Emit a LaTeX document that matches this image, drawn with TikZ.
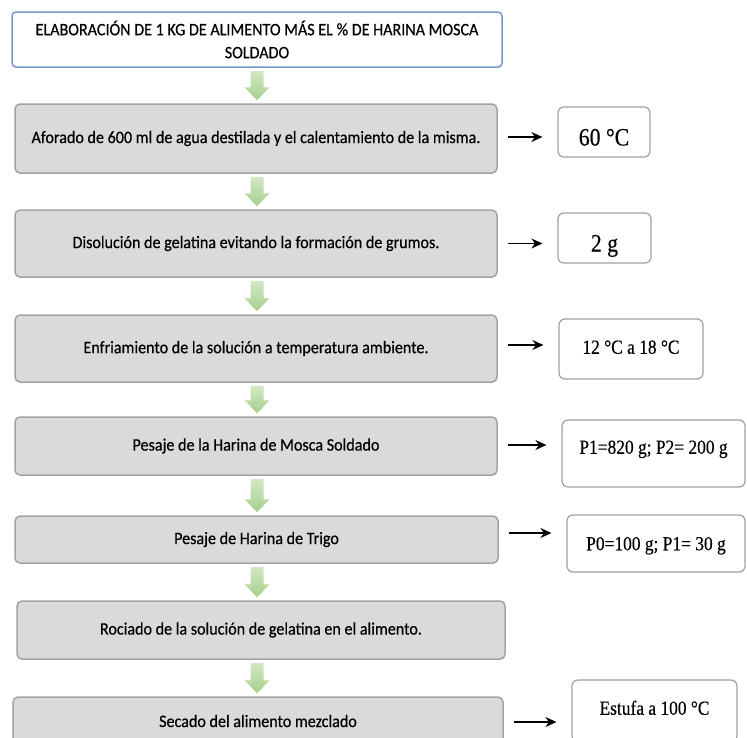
\documentclass[tikz,border=0pt]{standalone}
\usepackage{fontspec}
\setmainfont{Liberation Serif}
\newfontfamily\boxfont[FakeStretch=0.92,FakeBold=0.5]{Carlito}
\newfontfamily\valfont[FakeStretch=0.87,FakeBold=0.3]{Liberation Serif}
\usetikzlibrary{arrows.meta,calc,shadows}

\definecolor{grayfill}{HTML}{DADADA}
\definecolor{grayline}{HTML}{A3A3A3}
\definecolor{blueline}{HTML}{7A98C6}
\definecolor{greentop}{HTML}{D3E9C5}
\definecolor{greenbot}{HTML}{A6CF8A}
\definecolor{valline}{HTML}{A0A0A0}

\newcommand\flowarrow[2]{%
  \shade[top color=greentop, bottom color=greenbot]
    let \p1=(#1.south), \p2=(#2.north), \p3=(t.south),
        \n1={\y1-3pt}, \n2={\y2+3pt}, \n3={\y2+16pt} in
    ({\x3-6.5pt},\n1) -- ({\x3+6.5pt},\n1) -- ({\x3+6.5pt},\n3) --
    ({\x3+12.5pt},\n3) -- (\x3,\n2) -- ({\x3-12.5pt},\n3) --
    ({\x3-6.5pt},\n3) -- cycle;}

\begin{document}
\begin{tikzpicture}[x=1pt,y=-1pt,
  titlebox/.style={draw=blueline, line width=1.5pt, fill=white,
    rounded corners=4pt, inner sep=0pt, align=center,
    font=\boxfont\fontsize{17.5}{23}\selectfont,
    drop shadow={shadow xshift=1pt, shadow yshift=-1.2pt, opacity=0.2}},
  stepbox/.style={draw=grayline, line width=1.5pt, fill=grayfill,
    rounded corners=5pt, inner sep=0pt,
    font=\boxfont\fontsize{17.5}{21}\selectfont,
    drop shadow={shadow xshift=0.8pt, shadow yshift=-1pt, opacity=0.15}},
  valbox/.style={draw=valline, line width=1.2pt, fill=white,
    rounded corners=6pt, inner sep=0pt,
    font=\valfont\fontsize{20}{24}\selectfont},
  bigval/.style={font=\valfont\fontsize{25}{28}\selectfont},
  side/.style={line width=1.4pt, -{Stealth[length=11pt,width=10pt]},
    shorten <=10pt, shorten >=15pt},
]
\clip (0,0) rectangle (747,737);

% main column
\node[titlebox, minimum width=490pt, minimum height=55pt] (t) at (257,39.5)
  {ELABORACIÓN DE 1 KG DE ALIMENTO MÁS EL \% DE HARINA MOSCA\\SOLDADO};
\node[stepbox, minimum width=482pt, minimum height=69pt] (b1) at (256,138.5)
  {Aforado de 600 ml de agua destilada y el calentamiento de la misma.};
\node[stepbox, minimum width=482pt, minimum height=67pt] (b2) at (256,243.5)
  {Disolución de gelatina evitando la formación de grumos.};
\node[stepbox, minimum width=482pt, minimum height=67pt] (b3) at (256,348.5)
  {Enfriamiento de la solución a temperatura ambiente.};
\node[stepbox, minimum width=482pt, minimum height=58pt] (b4) at (256,446)
  {Pesaje de la Harina de Mosca Soldado};
\node[stepbox, minimum width=483pt, minimum height=47pt] (b5) at (256.5,539.5)
  {Pesaje de Harina de Trigo};
\node[stepbox, minimum width=488pt, minimum height=58pt] (b6) at (261,630)
  {Rociado de la solución de gelatina en el alimento.};
\node[stepbox, minimum width=490pt, minimum height=48pt] (b7) at (258,721)
  {Secado del alimento mezclado};

% value boxes
\node[valbox, bigval, minimum width=92pt, minimum height=50pt,
  text height=27pt, text depth=0pt] (v1) at (604,132) {60 °C};
\node[valbox, bigval, minimum width=93pt, minimum height=50pt,
  text height=27pt, text depth=0pt] (v2) at (604.5,238) {2 g};
\node[valbox, minimum width=144pt, minimum height=60pt,
  text height=14pt, text depth=4.5pt] (v3) at (631,349) {12 °C a 18 °C};
\node[valbox, minimum width=183pt, minimum height=67pt,
  text height=14pt, text depth=13.5pt] (v4) at (653.5,453.5) {P1=820 g; P2= 200 g};
\node[valbox, minimum width=178pt, minimum height=57pt,
  text height=13.5pt, text depth=0pt] (v5) at (656,543.5) {P0=100 g; P1= 30 g};
\node[valbox, minimum width=165pt, minimum height=62pt,
  text height=14pt, text depth=6.5pt] (v7) at (654.5,711) {Estufa a 100 °C};

% green flow arrows
\flowarrow{t}{b1}
\flowarrow{b1}{b2}
\flowarrow{b2}{b3}
\flowarrow{b3}{b4}
\flowarrow{b4}{b5}
\flowarrow{b5}{b6}
\flowarrow{b6}{b7}

% side arrows
\draw[side] ([yshift=1.5pt]b1.east) -- ([yshift=1.5pt]b1.east -| v1.west);
\draw[side] (b2.east) -- (b2.east -| v2.west);
\draw[side] ([yshift=3.5pt]b3.east) -- ([yshift=3.5pt]b3.east -| v3.west);
\draw[side] ([yshift=1pt]b4.east) -- ([yshift=1pt]b4.east -| v4.west);
\draw[side] ([yshift=6.5pt]b5.east) -- ([yshift=6.5pt]b5.east -| v5.west);
\draw[side] ([yshift=-1pt]b7.east) -- ([yshift=-1pt]b7.east -| v7.west);
\end{tikzpicture}
\end{document}
